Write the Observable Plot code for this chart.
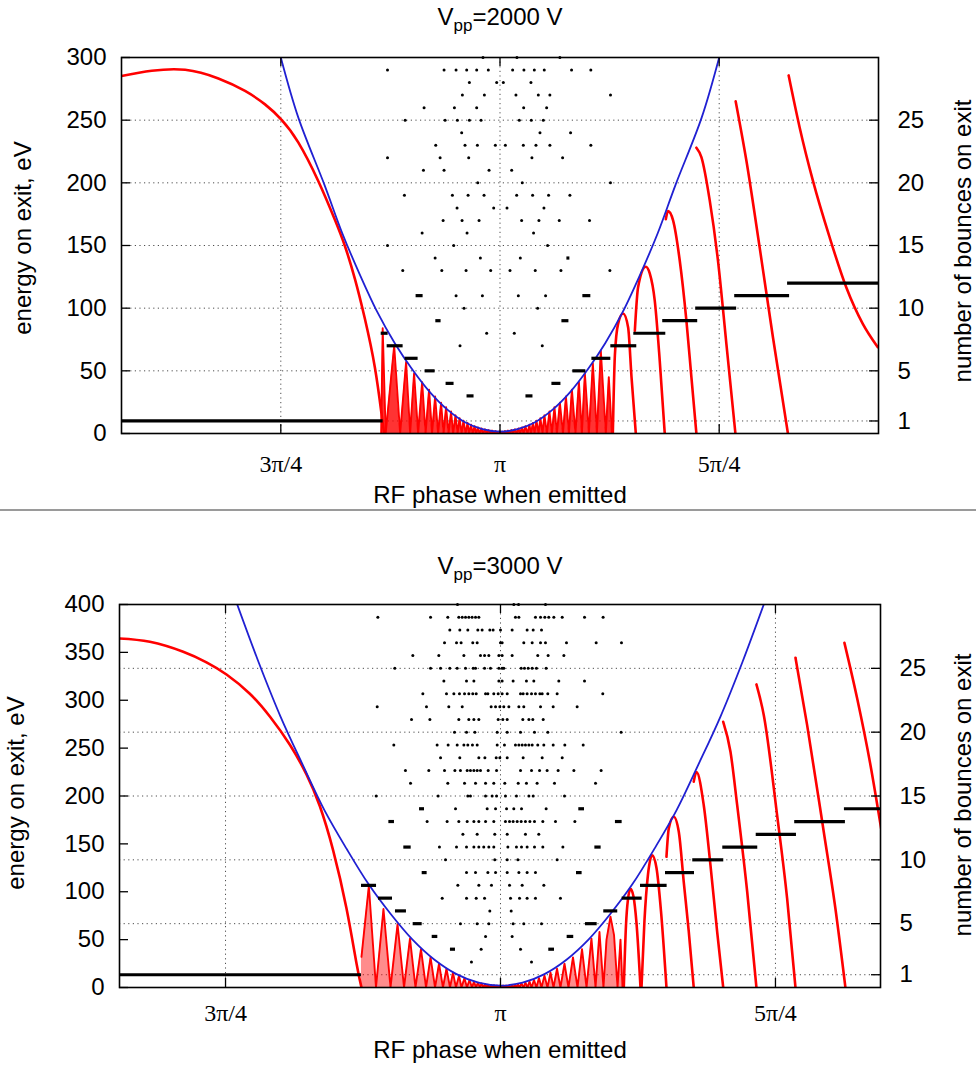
<!DOCTYPE html>
<html><head><meta charset="utf-8">
<script src="https://cdn.jsdelivr.net/npm/d3@7"></script>
<script src="https://cdn.jsdelivr.net/npm/@observablehq/plot@0.6"></script>
<style>
html,body{margin:0;padding:0;background:#fff;overflow:hidden;}
#wrap{position:relative;width:976px;height:1068px;overflow:hidden;font-family:"Liberation Sans",Arial,sans-serif;color:#000;background:#fff;}
.abs{position:absolute;white-space:nowrap;font-size:24px;line-height:24px;}
.ctr{transform:translateX(-50%);}
.rot{transform:translate(-50%,-50%) rotate(-90deg);line-height:22px;}
sub{font-size:17px;vertical-align:-6px;line-height:0;}
#sep{position:absolute;left:0;top:509px;width:976px;height:1.5px;background:#9a9a9a;}
</style></head>
<body><div id="wrap">
<div id="p1" style="position:absolute;left:0;top:0"></div>
<div id="p2" style="position:absolute;left:0;top:510px"></div>
<div class="abs ctr" style="left:500px;top:5px">V<sub>pp</sub>=2000 V</div>
<div class="abs ctr" style="left:500px;top:483px">RF phase when emitted</div>
<div id="sep"></div>
<div class="abs ctr" style="left:500px;top:554px">V<sub>pp</sub>=3000 V</div>
<div class="abs ctr" style="left:500px;top:1038px">RF phase when emitted</div>
<div class="abs rot" style="left:23px;top:238px">energy on exit, eV</div>
<div class="abs rot" style="left:963px;top:241px">number of bounces on exit</div>
<div class="abs rot" style="left:16px;top:793px">energy on exit, eV</div>
<div class="abs rot" style="left:963px;top:795px">number of bounces on exit</div>
</div>
<script>
// ---------- shared ----------
const xTickValues = [0.75, 1, 1.25];            // phase / π
const xTickLabels = ["3π/4", "π", "5π/4"];
const bounceTicks = [1, 5, 10, 15, 20, 25];

// ---------- panel 1 : Vpp = 2000 V ----------
const phaseDomain1 = [0.5683, 1.4317];
const energyDomain1 = [0, 300];
const energyTicks1 = [0, 50, 100, 150, 200, 250, 300];
const evPerBounce1 = 10;

const blue1 = [[0.75,300],[0.77,252],[0.80,198],[0.82,160],[0.84,127],[0.86,97],[0.88,72],[0.90,51],[0.92,33],[0.94,19],[0.96,9],[0.98,3.5],[1.00,1.5],
  [1.02,3.5],[1.04,9],[1.06,19],[1.08,33],[1.10,51],[1.12,72],[1.14,97],[1.16,127],[1.18,160],[1.20,198],[1.23,252],[1.25,300]];

const redMain1 = [[0.5683,285.3],[0.6028,289.4],[0.6409,290.2],[0.6788,283.3],[0.7092,273.3],[0.7320,262.6],[0.7509,250.3],[0.7699,232.3],
  [0.7927,201.5],[0.8117,170.5],[0.8231,149.6],[0.8345,123.4],[0.8459,91.5],[0.8573,52.7],[0.8648,16],[0.8678,0]];

const redFringe1 = [[0.8645,0],[0.8662,84],[0.8696,0],[0.8793,70],[0.8861,0],[0.8929,57],[0.8975,0],[0.9020,48],[0.9066,0],[0.9112,41],[0.9151,0],
  [0.9191,35],[0.9225,0],[0.9260,29.5],[0.9294,0],[0.9328,24.5],[0.9356,0],[0.9385,21],[0.9413,0],[0.9442,17.5],[0.9465,0],[0.9493,14.5],[0.9516,0],
  [0.9539,12.3],[0.9561,0],[0.9584,10.3],[0.9607,0],[0.9630,8.5],[0.9647,0],[0.9670,7.1],[0.9687,0],[0.9710,5.8],[0.9727,0],[0.9749,4.9],[0.9766,0],
  [0.9789,4.1],[0.9806,0],[0.9829,3.4],[0.9846,0],[0.9869,2.75],[0.9886,0],[0.9909,2.3],[0.9926,0],[0.9949,2],[0.9966,0],[0.9989,1.6],[1.0006,0],
  [1.0023,1.6],[1.0040,0],[1.0057,2],[1.0074,0],[1.0091,2.3],[1.0108,0],[1.0131,2.75],[1.0148,0],[1.0171,3.4],[1.0188,0],[1.0211,4.1],[1.0228,0],
  [1.0251,4.9],[1.0268,0],[1.0290,5.8],[1.0313,0],[1.0336,7.1],[1.0353,0],[1.0376,8.5],[1.0393,0],[1.0416,10.3],[1.0439,0],[1.0461,12.3],[1.0484,0],
  [1.0507,14.5],[1.0535,0],[1.0564,17.5],[1.0592,0],[1.0621,21],[1.0649,0],[1.0683,24.5],[1.0718,0],[1.0752,29.5],[1.0786,0],[1.0820,35],[1.0860,0],
  [1.0900,41],[1.0934,0],[1.0968,48],[1.1014,0],[1.1059,56],[1.1105,0],[1.1150,66],[1.1207,0],[1.1241,45],[1.1276,0]];

const redArches1 = [
  [[1.1287,0],[1.1310,62],[1.1347,87.5],[1.1404,95.7],[1.1461,84.8],[1.1500,45],[1.1549,0]],
  [[1.1538,82],[1.1575,116.7],[1.1663,133],[1.1708,127.7],[1.1765,106],[1.1822,58],[1.1879,0]],
  [[1.1891,171],[1.1917,177.4],[1.1974,170],[1.2050,138],[1.2126,90],[1.2183,45],[1.2240,0]],
  [[1.2240,228],[1.2297,220.5],[1.2392,186],[1.2486,138],[1.2582,71.6],[1.2685,0]],
  [[1.2688,265],[1.2810,217.8],[1.2961,148.7],[1.3113,76.8],[1.3284,0]],
  [[1.3292,285.7],[1.3417,244.4],[1.3568,201.9],[1.3759,156.6],[1.3949,116.7],[1.4138,87.5],[1.4309,68.9]]
];

// [phase from, phase to, number of bounces]
const bounceSegs1 = [[0.5683,0.8667,1],[0.9624,0.9704,3],[1.0296,1.0376,3],[0.9385,0.9476,4],[1.0592,1.0695,4],
  [0.9146,0.9260,5],[1.0831,1.0979,5],[0.8918,0.9066,6],[1.1048,1.1264,6],[0.8713,0.8895,7],[1.1264,1.1560,7],
  [0.8645,0.8724,8],[1.1526,1.1891,8],[0.9268,0.9328,9],[1.0706,1.0786,9],[1.1856,1.2255,9],[1.2232,1.2699,10],
  [0.9043,0.9123,11],[1.0945,1.1036,11],[1.2677,1.3303,11],[1.3280,1.4317,12],[1.0763,1.0797,14]];

// [number of bounces, phases]
const bounceDots1 = [
 [30,[0.9806,1.0193,1.0683]],
 [29,[0.8717,0.9362,0.9499,0.9620,0.9734,0.9867,1.0144,1.0273,1.0391,1.0505,1.0816,1.1036]],
 [28,[0.9651,0.9962,1.0038,1.0353]],
 [27,[0.9571,0.9822,1.0182,1.0437,1.0569,1.1260]],
 [26,[0.9134,0.9480,0.9734,1.0270,1.0532]],
 [25,[0.8918,0.9374,0.9514,0.9651,0.9784,1.0220,1.0357,1.0494]],
 [24,[0.9563,1.0456,1.0805]],
 [23,[0.9267,0.9601,0.9742,0.9947,1.0061,1.0266,1.0410,1.0569,1.1036]],
 [22,[0.8717,0.9317,0.9643,1.0364,1.0714]],
 [21,[0.9127,0.9362,0.9875,1.0133]],
 [20,[0.9746,1.0254,1.1260]],
 [19,[0.8910,0.9457,0.9636,0.9818,1.0190,1.0372,1.0554,1.0797]],
 [18,[0.9510,0.9928,1.0080,1.0501]],
 [17,[0.9351,0.9567,0.9761,1.0247,1.0444,1.0676,1.1021]],
 [16,[0.9112,0.9624,1.0383]],
 [15,[0.8717,0.9472,1.0543]],
 [14,[0.9260,0.9776,1.0232]],
 [13,[0.8891,0.9336,0.9613,0.9894,1.0114,1.0402,1.0695,1.1253]],
 [11,[0.9499,0.9799,1.0209,1.0520]],
 [10,[0.9590,1.0429]],
 [8,[0.9848,1.0163]],
 [7,[0.9544,1.0482]]
];

// ---------- panel 2 : Vpp = 3000 V ----------
const phaseDomain2 = [0.6536, 1.3455];
const energyDomain2 = [0, 400];
const energyTicks2 = [0, 50, 100, 150, 200, 250, 300, 350, 400];
const evPerBounce2 = 40 / 3;

const blue2 = [[0.76,402],[0.78,340],[0.80,283],[0.82,233],[0.84,185],[0.86,145],[0.88,108],[0.90,77],[0.92,50],[0.94,29],[0.96,14],[0.98,5],[1.00,2],
  [1.02,5],[1.04,14],[1.06,29],[1.08,50],[1.10,77],[1.12,108],[1.14,145],[1.16,185],[1.18,233],[1.20,283],[1.22,340],[1.24,402]];

const redMain2 = [[0.6536,364.5],[0.6812,361],[0.7115,350.6],[0.7327,339.6],[0.7509,326.9],[0.7721,306.8],[0.7903,283.0],[0.8085,253.5],
  [0.8236,222.5],[0.8357,189.5],[0.8479,143.0],[0.8600,82.4],[0.8691,25],[0.8736,0]];

const redFringe2 = [[0.8736,32],[0.8803,106],[0.8868,0],[0.8936,82],[0.9000,0],[0.9064,66],[0.9123,0],[0.9177,51],[0.9227,0],[0.9277,40],[0.9323,0],
  [0.9364,31.5],[0.9405,0],[0.9441,24.8],[0.9477,0],[0.9509,19.6],[0.9541,0],[0.9568,15.6],[0.9595,0],[0.9623,12.4],[0.9645,0],[0.9673,9.8],[0.9695,0],
  [0.9718,7.8],[0.9741,0],[0.9759,6.2],[0.9777,0],[0.9795,5.1],[0.9814,0],[0.9827,4.2],[0.9845,0],[0.9859,3.5],[0.9873,0],[0.9886,2.9],[0.9900,0],
  [0.9914,2.5],[0.9927,0],[0.9941,2.3],[0.9955,0],[0.9968,2.1],[0.9982,0],[0.9995,2],[1.0009,0],
  [1.0023,2],[1.0036,0],[1.0050,2.1],[1.0064,0],[1.0077,2.3],[1.0091,0],[1.0105,2.5],[1.0118,0],[1.0132,2.9],[1.0145,0],[1.0159,3.5],[1.0173,0],
  [1.0191,4.2],[1.0209,0],[1.0227,5.1],[1.0245,0],[1.0264,6.2],[1.0282,0],[1.0305,7.8],[1.0327,0],[1.0350,9.8],[1.0373,0],[1.0400,12.4],[1.0427,0],
  [1.0455,15.6],[1.0482,0],[1.0514,19.6],[1.0545,0],[1.0582,24.8],[1.0618,0],[1.0659,31.5],[1.0700,0],[1.0741,40],[1.0782,0],[1.0827,51],[1.0864,0],
  [1.0900,58],[1.0936,0],[1.0964,50],[1.1000,74],[1.1032,55],[1.1064,0],[1.1091,50],[1.1109,0]];

const redArches2 = [
  [[1.1121,0],[1.1141,65],[1.1159,92],[1.1182,103],[1.1209,95],[1.1236,68],[1.1273,0]],
  [[1.1282,0],[1.1309,70],[1.1341,118],[1.1379,138],[1.1418,125],[1.1459,80],[1.1509,0]],
  [[1.1509,136.5],[1.1530,166],[1.1575,178.3],[1.1621,162.6],[1.1666,110.4],[1.1712,58.2],[1.1757,0]],
  [[1.1757,215],[1.1782,225],[1.1848,190.4],[1.1909,127.7],[1.1970,58.2],[1.2025,0]],
  [[1.2025,277.5],[1.2091,246.2],[1.2152,190.4],[1.2243,100],[1.2327,0]],
  [[1.2327,316.5],[1.2394,284.4],[1.2515,180],[1.2606,93],[1.2682,0]],
  [[1.2682,344.3],[1.2788,274],[1.2939,162.6],[1.3045,82.5],[1.3136,0]],
  [[1.3127,360],[1.3243,301.8],[1.3364,232.2],[1.3461,166]]
];

const bounceSegs2 = [[0.6536,0.8736,1],[0.8736,0.8873,8],[0.8891,0.9018,7],[0.9045,0.9145,6],[0.9206,0.9288,5],[0.9379,0.9430,4],[0.9545,0.9591,3],
  [1.0439,1.0491,3],[1.0606,1.0666,4],[1.0773,1.0879,5],[1.0939,1.1066,6],[1.1106,1.1288,7],[1.1273,1.1515,8],[1.1500,1.1764,9],
  [1.1748,1.2030,10],[1.2021,1.2339,11],[1.2325,1.2691,12],[1.2675,1.3136,13],[1.3127,1.3455,14],
  [0.9264,0.9309,14],[1.0712,1.0764,14],[0.8985,0.9036,13],[1.1045,1.1106,13],[0.9121,0.9188,11],[1.0858,1.0915,11],[0.9288,0.9333,9],[1.0691,1.0742,9]];

const bounceDots2 = [
 [30,[0.9609,1.0121,1.0164,1.0409]],
 [29,[0.8885,0.9364,0.9521,0.9621,0.9652,0.9682,0.9712,0.9742,0.9773,0.9803,1.0136,1.0167,1.0318,1.0364,1.0403,1.0439,1.0485,1.0561,1.0764,1.0933]],
 [28,[0.9539,0.9630,0.9703,0.9794,0.9833,0.9903,0.9933,1.0000,1.0106,1.0242,1.0297,1.0373]],
 [27,[0.9491,0.9600,0.9642,0.9748,0.9788,1.0000,1.0015,1.0212,1.0288,1.0364,1.0409,1.0600,1.0870,1.1100]],
 [26,[0.9203,0.9439,0.9667,0.9818,0.9855,0.9894,0.9985,1.0015,1.0106,1.0339,1.0433,1.0576]],
 [25,[0.9039,0.9364,0.9455,0.9539,0.9606,0.9682,0.9752,0.9773,0.9855,0.9909,0.9985,1.0015,1.0030,1.0188,1.0218,1.0252,1.0288,1.0327,1.0415]],
 [24,[0.9485,0.9691,0.9758,0.9985,1.0015,1.0115,1.0236,1.0303,1.0530,1.0764]],
 [23,[0.9294,0.9509,0.9576,0.9627,0.9673,0.9712,0.9748,0.9779,0.9864,0.9885,0.9939,0.9979,1.0015,1.0061,1.0182,1.0206,1.0242,1.0282,1.0318,1.0358,1.0379,1.0430,1.0515,1.0930]],
 [22,[0.8879,0.9327,0.9530,0.9652,0.9915,0.9955,0.9994,1.0030,1.0076,1.0167,1.0212,1.0364,1.0479,1.0697]],
 [21,[0.9191,0.9358,0.9621,0.9712,0.9758,0.9803,0.9979,1.0021,1.0061,1.0203,1.0258,1.0294,1.0388]],
 [20,[0.9582,0.9691,0.9767,0.9970,1.0061,1.0182,1.0309,1.0430,1.1097]],
 [19,[0.9030,0.9424,0.9524,0.9606,0.9667,0.9703,0.9745,0.9788,0.9970,1.0036,1.0136,1.0167,1.0197,1.0227,1.0258,1.0288,1.0339,1.0394,1.0479,1.0585,1.0752]],
 [18,[0.9455,0.9630,0.9803,0.9858,0.9961,0.9994,1.0061,1.0206,1.0379,1.0561]],
 [17,[0.9136,0.9348,0.9491,0.9585,0.9636,0.9697,0.9727,0.9758,0.9788,0.9818,0.9888,0.9964,1.0182,1.0282,1.0355,1.0424,1.0524,1.0667,1.0915]],
 [16,[0.9182,0.9521,0.9673,0.9773,0.9864,0.9939,1.0039,1.0161,1.0236,1.0333,1.0491,1.0864]],
 [15,[0.8870,0.9433,0.9703,0.9727,0.9864,0.9924,0.9964,1.0045,1.0145,1.0258,1.0297,1.0582]],
 [14,[0.9591,0.9879,0.9955,1.0055,1.0121,1.0191,1.0415]],
 [13,[0.9333,0.9515,0.9621,0.9697,0.9758,0.9803,0.9864,0.9939,1.0045,1.0082,1.0115,1.0152,1.0188,1.0227,1.0267,1.0309,1.0385,1.0500,1.0676]],
 [12,[0.9658,0.9788,0.9948,1.0061,1.0227,1.0348]],
 [11,[0.9445,0.9600,0.9691,0.9758,0.9803,0.9848,0.9894,0.9939,1.0067,1.0145,1.0191,1.0242,1.0309,1.0385,1.0567]],
 [10,[0.9500,0.9948,1.0061,1.0158,1.0515]],
 [9,[0.9691,0.9773,0.9885,0.9955,1.0061,1.0167,1.0242,1.0318]],
 [8,[0.9612,0.9803,0.9918,1.0082,1.0197,1.0394]],
 [7,[0.9470,0.9691,0.9779,0.9855,1.0091,1.0173,1.0242,1.0318,1.0545]],
 [6,[0.9903,1.0097]],
 [5,[0.9636,0.9788,0.9894,1.0115,1.0212,1.0373]],
 [4,[0.9864,1.0106]],
 [3,[0.9824,1.0182]],
 [2,[0.9736,1.0282]]
];

// ---------- drawing ----------
function panel(cfg) {
  const {width, height, mt, mr, mb, ml, phaseDomain, energyDomain, energyTicks, evPerBounce,
         blue, redMain, redFringe, redArches, segs, dots, xPad, fringeFill} = cfg;
  const innerW = width - ml - mr, innerH = height - mt - mb;
  const rightTicks = bounceTicks.map(n => n * evPerBounce);
  const dotRows = dots.flatMap(([n, ps]) => ps.map(p => ({phase: p, n})));
  const px = d => d[0], py = d => d[1];
  const red = "#ff0000";
  const gridStyle = {stroke: "#3a3a3a", strokeOpacity: 1, strokeWidth: 0.9, strokeDasharray: "1.2,3.4"};
  return Plot.plot({
    width, height, marginTop: mt, marginRight: mr, marginBottom: mb, marginLeft: ml,
    x: {domain: phaseDomain},
    y: {domain: energyDomain},
    style: {fontFamily: "'Liberation Sans', Arial, sans-serif", fontSize: "24px", background: "transparent", overflow: "visible"},
    marks: [
      Plot.gridY(rightTicks, gridStyle),
      Plot.gridX(xTickValues, gridStyle),
      Plot.areaY(redFringe, {x: px, y: py, fill: red, fillOpacity: fringeFill, clip: true}),
      Plot.line(redFringe, {x: px, y: py, stroke: red, strokeWidth: 1.9, clip: true}),
      Plot.line(redMain, {x: px, y: py, stroke: red, strokeWidth: 2.6, curve: "natural", clip: true}),
      ...redArches.map(a => Plot.line(a, {x: px, y: py, stroke: red, strokeWidth: 2.6, curve: "monotone-x", clip: true})),
      Plot.line(blue, {x: px, y: py, stroke: "#2020d2", strokeWidth: 1.8, curve: "catmull-rom", clip: true}),
      Plot.ruleY(segs, {x1: d => d[0], x2: d => d[1], y: d => d[2] * evPerBounce, stroke: "black", strokeWidth: 3.2}),
      Plot.dot(dotRows, {x: "phase", y: d => d.n * evPerBounce, r: 1.5, fill: "black", stroke: null}),
      Plot.frame({stroke: "black", strokeWidth: 1.6}),
      Plot.tickY(energyTicks, {insetRight: innerW - 9, stroke: "black", strokeWidth: 1.3}),
      Plot.tickY(rightTicks, {insetLeft: innerW - 9, stroke: "black", strokeWidth: 1.3}),
      Plot.tickX(xTickValues, {insetTop: innerH - 9, stroke: "black", strokeWidth: 1.3}),
      Plot.tickX(xTickValues, {insetBottom: innerH - 9, stroke: "black", strokeWidth: 1.3}),
      Plot.axisY(energyTicks, {anchor: "left", tickSize: 0, tickPadding: 15, fontSize: 24, label: null}),
      Plot.axisY(rightTicks, {anchor: "right", tickSize: 0, tickPadding: 19, fontSize: 24, label: null,
        tickFormat: d => String(Math.round(d / evPerBounce))}),
      Plot.axisX(xTickValues, {anchor: "bottom", tickSize: 0, tickPadding: xPad, fontSize: 24,
        fontFamily: "'Liberation Serif', 'Times New Roman', serif", label: null,
        tickFormat: d => xTickLabels[xTickValues.indexOf(d)]})
    ]
  });
}

document.getElementById("p1").appendChild(panel({
  width: 976, height: 510, mt: 57, mr: 98, mb: 77, ml: 121,
  phaseDomain: phaseDomain1, energyDomain: energyDomain1, energyTicks: energyTicks1, evPerBounce: evPerBounce1,
  blue: blue1, redMain: redMain1, redFringe: redFringe1, redArches: redArches1, segs: bounceSegs1, dots: bounceDots1, xPad: 21,
  fringeFill: 0.8
}));
document.getElementById("p2").appendChild(panel({
  width: 976, height: 558, mt: 94, mr: 96, mb: 81, ml: 119,
  phaseDomain: phaseDomain2, energyDomain: energyDomain2, energyTicks: energyTicks2, evPerBounce: evPerBounce2,
  blue: blue2, redMain: redMain2, redFringe: redFringe2, redArches: redArches2, segs: bounceSegs2, dots: bounceDots2, xPad: 16,
  fringeFill: 0.45
}));
</script>
</body></html>
